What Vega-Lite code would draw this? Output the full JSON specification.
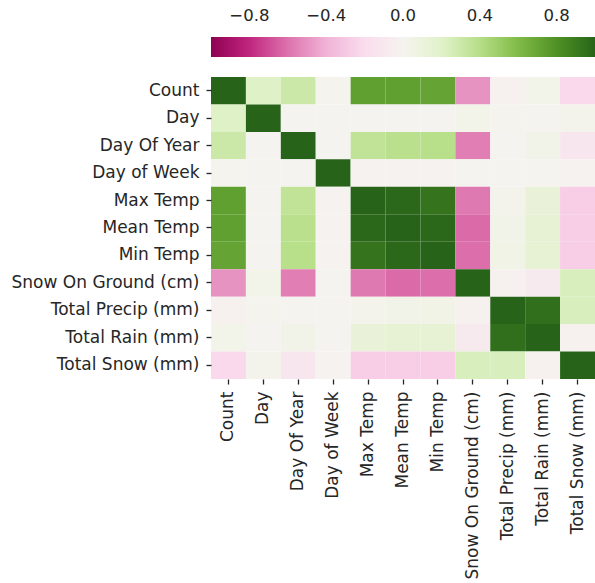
{
  "$schema": "https://vega.github.io/schema/vega-lite/v6.json",
  "width": 384,
  "height": 302,
  "autosize": "none",
  "padding": {"left": 211, "top": 77, "right": 0, "bottom": 204},
  "background": "white",
  "config": {
    "view": {"stroke": null},
    "font": "DejaVu Sans",
    "axis": {"domain": false, "ticks": true, "tickSize": 5, "tickWidth": 1.3, "tickColor": "#262626", "labelColor": "#262626", "labelFont": "DejaVu Sans", "labelFontSize": 17, "labelPadding": 7, "labelLimit": 0, "title": null}
  },
  "data": {"values": [
    {"row":"Count","col":"Count","corr":1},
    {"row":"Count","col":"Day","corr":0.21},
    {"row":"Count","col":"Day Of Year","corr":0.30},
    {"row":"Count","col":"Day of Week","corr":0.01},
    {"row":"Count","col":"Max Temp","corr":0.73},
    {"row":"Count","col":"Mean Temp","corr":0.73},
    {"row":"Count","col":"Min Temp","corr":0.71},
    {"row":"Count","col":"Snow On Ground (cm)","corr":-0.50},
    {"row":"Count","col":"Total Precip (mm)","corr":-0.03},
    {"row":"Count","col":"Total Rain (mm)","corr":0.03},
    {"row":"Count","col":"Total Snow (mm)","corr":-0.22},

    {"row":"Day","col":"Count","corr":0.21},
    {"row":"Day","col":"Day","corr":1},
    {"row":"Day","col":"Day Of Year","corr":0.0},
    {"row":"Day","col":"Day of Week","corr":0.0},
    {"row":"Day","col":"Max Temp","corr":0.0},
    {"row":"Day","col":"Mean Temp","corr":0.0},
    {"row":"Day","col":"Min Temp","corr":0.0},
    {"row":"Day","col":"Snow On Ground (cm)","corr":0.03},
    {"row":"Day","col":"Total Precip (mm)","corr":0.01},
    {"row":"Day","col":"Total Rain (mm)","corr":0.0},
    {"row":"Day","col":"Total Snow (mm)","corr":0.02},

    {"row":"Day Of Year","col":"Count","corr":0.30},
    {"row":"Day Of Year","col":"Day","corr":0.0},
    {"row":"Day Of Year","col":"Day Of Year","corr":1},
    {"row":"Day Of Year","col":"Day of Week","corr":0.0},
    {"row":"Day Of Year","col":"Max Temp","corr":0.35},
    {"row":"Day Of Year","col":"Mean Temp","corr":0.38},
    {"row":"Day Of Year","col":"Min Temp","corr":0.39},
    {"row":"Day Of Year","col":"Snow On Ground (cm)","corr":-0.56},
    {"row":"Day Of Year","col":"Total Precip (mm)","corr":0.0},
    {"row":"Day Of Year","col":"Total Rain (mm)","corr":0.04},
    {"row":"Day Of Year","col":"Total Snow (mm)","corr":-0.12},

    {"row":"Day of Week","col":"Count","corr":0.01},
    {"row":"Day of Week","col":"Day","corr":0.0},
    {"row":"Day of Week","col":"Day Of Year","corr":0.0},
    {"row":"Day of Week","col":"Day of Week","corr":1},
    {"row":"Day of Week","col":"Max Temp","corr":-0.01},
    {"row":"Day of Week","col":"Mean Temp","corr":-0.01},
    {"row":"Day of Week","col":"Min Temp","corr":-0.01},
    {"row":"Day of Week","col":"Snow On Ground (cm)","corr":0.0},
    {"row":"Day of Week","col":"Total Precip (mm)","corr":0.0},
    {"row":"Day of Week","col":"Total Rain (mm)","corr":0.0},
    {"row":"Day of Week","col":"Total Snow (mm)","corr":-0.01},

    {"row":"Max Temp","col":"Count","corr":0.73},
    {"row":"Max Temp","col":"Day","corr":0.0},
    {"row":"Max Temp","col":"Day Of Year","corr":0.35},
    {"row":"Max Temp","col":"Day of Week","corr":-0.01},
    {"row":"Max Temp","col":"Max Temp","corr":1},
    {"row":"Max Temp","col":"Mean Temp","corr":0.98},
    {"row":"Max Temp","col":"Min Temp","corr":0.93},
    {"row":"Max Temp","col":"Snow On Ground (cm)","corr":-0.58},
    {"row":"Max Temp","col":"Total Precip (mm)","corr":0.02},
    {"row":"Max Temp","col":"Total Rain (mm)","corr":0.12},
    {"row":"Max Temp","col":"Total Snow (mm)","corr":-0.27},

    {"row":"Mean Temp","col":"Count","corr":0.73},
    {"row":"Mean Temp","col":"Day","corr":0.0},
    {"row":"Mean Temp","col":"Day Of Year","corr":0.38},
    {"row":"Mean Temp","col":"Day of Week","corr":-0.01},
    {"row":"Mean Temp","col":"Max Temp","corr":0.98},
    {"row":"Mean Temp","col":"Mean Temp","corr":1},
    {"row":"Mean Temp","col":"Min Temp","corr":0.98},
    {"row":"Mean Temp","col":"Snow On Ground (cm)","corr":-0.62},
    {"row":"Mean Temp","col":"Total Precip (mm)","corr":0.04},
    {"row":"Mean Temp","col":"Total Rain (mm)","corr":0.14},
    {"row":"Mean Temp","col":"Total Snow (mm)","corr":-0.27},

    {"row":"Min Temp","col":"Count","corr":0.71},
    {"row":"Min Temp","col":"Day","corr":0.0},
    {"row":"Min Temp","col":"Day Of Year","corr":0.39},
    {"row":"Min Temp","col":"Day of Week","corr":-0.01},
    {"row":"Min Temp","col":"Max Temp","corr":0.93},
    {"row":"Min Temp","col":"Mean Temp","corr":0.98},
    {"row":"Min Temp","col":"Min Temp","corr":1},
    {"row":"Min Temp","col":"Snow On Ground (cm)","corr":-0.61},
    {"row":"Min Temp","col":"Total Precip (mm)","corr":0.05},
    {"row":"Min Temp","col":"Total Rain (mm)","corr":0.15},
    {"row":"Min Temp","col":"Total Snow (mm)","corr":-0.27},

    {"row":"Snow On Ground (cm)","col":"Count","corr":-0.50},
    {"row":"Snow On Ground (cm)","col":"Day","corr":0.03},
    {"row":"Snow On Ground (cm)","col":"Day Of Year","corr":-0.56},
    {"row":"Snow On Ground (cm)","col":"Day of Week","corr":0.0},
    {"row":"Snow On Ground (cm)","col":"Max Temp","corr":-0.58},
    {"row":"Snow On Ground (cm)","col":"Mean Temp","corr":-0.62},
    {"row":"Snow On Ground (cm)","col":"Min Temp","corr":-0.61},
    {"row":"Snow On Ground (cm)","col":"Snow On Ground (cm)","corr":1},
    {"row":"Snow On Ground (cm)","col":"Total Precip (mm)","corr":-0.03},
    {"row":"Snow On Ground (cm)","col":"Total Rain (mm)","corr":-0.08},
    {"row":"Snow On Ground (cm)","col":"Total Snow (mm)","corr":0.24},

    {"row":"Total Precip (mm)","col":"Count","corr":-0.03},
    {"row":"Total Precip (mm)","col":"Day","corr":0.01},
    {"row":"Total Precip (mm)","col":"Day Of Year","corr":0.0},
    {"row":"Total Precip (mm)","col":"Day of Week","corr":0.0},
    {"row":"Total Precip (mm)","col":"Max Temp","corr":0.02},
    {"row":"Total Precip (mm)","col":"Mean Temp","corr":0.04},
    {"row":"Total Precip (mm)","col":"Min Temp","corr":0.05},
    {"row":"Total Precip (mm)","col":"Snow On Ground (cm)","corr":-0.03},
    {"row":"Total Precip (mm)","col":"Total Precip (mm)","corr":1},
    {"row":"Total Precip (mm)","col":"Total Rain (mm)","corr":0.95},
    {"row":"Total Precip (mm)","col":"Total Snow (mm)","corr":0.24},

    {"row":"Total Rain (mm)","col":"Count","corr":0.03},
    {"row":"Total Rain (mm)","col":"Day","corr":0.0},
    {"row":"Total Rain (mm)","col":"Day Of Year","corr":0.04},
    {"row":"Total Rain (mm)","col":"Day of Week","corr":0.0},
    {"row":"Total Rain (mm)","col":"Max Temp","corr":0.12},
    {"row":"Total Rain (mm)","col":"Mean Temp","corr":0.14},
    {"row":"Total Rain (mm)","col":"Min Temp","corr":0.15},
    {"row":"Total Rain (mm)","col":"Snow On Ground (cm)","corr":-0.08},
    {"row":"Total Rain (mm)","col":"Total Precip (mm)","corr":0.95},
    {"row":"Total Rain (mm)","col":"Total Rain (mm)","corr":1},
    {"row":"Total Rain (mm)","col":"Total Snow (mm)","corr":-0.02},

    {"row":"Total Snow (mm)","col":"Count","corr":-0.22},
    {"row":"Total Snow (mm)","col":"Day","corr":0.02},
    {"row":"Total Snow (mm)","col":"Day Of Year","corr":-0.12},
    {"row":"Total Snow (mm)","col":"Day of Week","corr":-0.01},
    {"row":"Total Snow (mm)","col":"Max Temp","corr":-0.27},
    {"row":"Total Snow (mm)","col":"Mean Temp","corr":-0.27},
    {"row":"Total Snow (mm)","col":"Min Temp","corr":-0.27},
    {"row":"Total Snow (mm)","col":"Snow On Ground (cm)","corr":0.24},
    {"row":"Total Snow (mm)","col":"Total Precip (mm)","corr":0.24},
    {"row":"Total Snow (mm)","col":"Total Rain (mm)","corr":-0.02},
    {"row":"Total Snow (mm)","col":"Total Snow (mm)","corr":1}
  ]},
  "mark": {"type": "rect"},
  "encoding": {
    "x": {"field": "col", "type": "nominal",
      "sort": ["Count","Day","Day Of Year","Day of Week","Max Temp","Mean Temp","Min Temp","Snow On Ground (cm)","Total Precip (mm)","Total Rain (mm)","Total Snow (mm)"],
      "scale": {"paddingInner": 0, "paddingOuter": 0},
      "axis": {"labelAngle": -90, "orient": "bottom"}},
    "y": {"field": "row", "type": "nominal",
      "sort": ["Count","Day","Day Of Year","Day of Week","Max Temp","Mean Temp","Min Temp","Snow On Ground (cm)","Total Precip (mm)","Total Rain (mm)","Total Snow (mm)"],
      "scale": {"paddingInner": 0, "paddingOuter": 0},
      "axis": {"orient": "left"}},
    "color": {"field": "corr", "type": "quantitative",
      "scale": {"scheme": "pinkyellowgreen", "domain": [-1, 1]},
      "legend": {
        "orient": "none", "legendX": 0, "legendY": -40,
        "direction": "horizontal", "title": null,
        "gradientLength": 384, "gradientThickness": 20, "gradientStrokeWidth": 0,
        "values": [-0.8, -0.4, 0, 0.4, 0.8], "format": ".1f",
        "labelFont": "DejaVu Sans", "labelFontSize": 16.5, "labelColor": "#262626",
        "labelOffset": -49, "padding": 0
      }}
  }
}
